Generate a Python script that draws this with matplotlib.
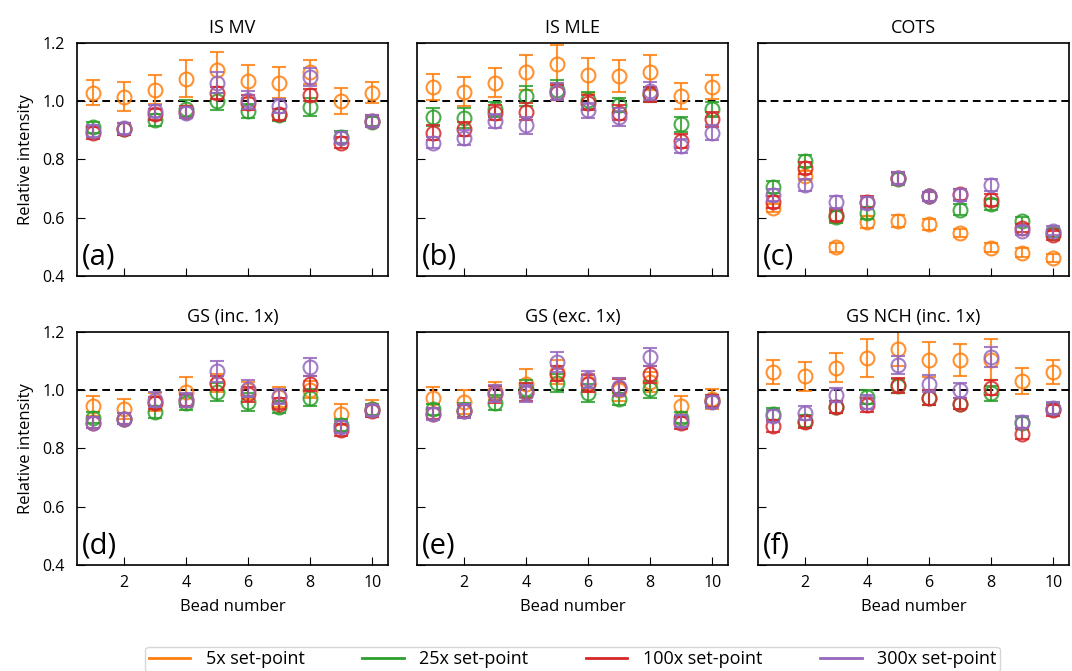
import numpy as np
import matplotlib
matplotlib.use('Agg')
import matplotlib.pyplot as plt
from matplotlib.lines import Line2D

plt.rcParams.update({
    'font.family': ['Open Sans', 'DejaVu Sans'],
    'font.size': 11,
    'xtick.direction': 'in',
    'ytick.direction': 'in',
    'xtick.major.size': 6,
    'ytick.major.size': 6,
    'axes.linewidth': 1.2,
})

# =============================================================================
# DATOS
# =============================================================================

beads = [1, 2, 3, 4, 5, 6, 7, 8, 9, 10]
series = ['5x set-point', '25x set-point', '100x set-point', '300x set-point']
colores = ['#ff7f0e', '#2ca02c', '#d62728', '#9467bd']
titulos = ['IS MV', 'IS MLE', 'COTS', 'GS (inc. 1x)', 'GS (exc. 1x)', 'GS NCH (inc. 1x)']
etiquetas = ['(a)', '(b)', '(c)', '(d)', '(e)', '(f)']

# filas: 5x, 25x, 100x, 300x
is_mv = [
    [1.03, 1.015, 1.04, 1.078, 1.108, 1.068, 1.064, 1.10, 1.00, 1.03],
    [0.91, 0.905, 0.935, 0.975, 1.00, 0.967, 0.952, 0.98, 0.877, 0.93],
    [0.892, 0.904, 0.955, 0.963, 1.028, 0.995, 0.955, 1.022, 0.858, 0.932],
    [0.898, 0.907, 0.967, 0.961, 1.064, 1.005, 0.984, 1.084, 0.875, 0.932],
]
is_mv_err = [
    [0.043, 0.05, 0.05, 0.065, 0.06, 0.056, 0.053, 0.04, 0.045, 0.037],
    [0.02, 0.02, 0.02, 0.03, 0.03, 0.025, 0.02, 0.03, 0.02, 0.015],
    [0.02, 0.02, 0.02, 0.02, 0.02, 0.025, 0.02, 0.02, 0.02, 0.02],
    [0.02, 0.02, 0.02, 0.02, 0.035, 0.03, 0.025, 0.03, 0.02, 0.02],
]

is_mle = [
    [1.049, 1.033, 1.064, 1.099, 1.127, 1.09, 1.087, 1.10, 1.018, 1.049],
    [0.946, 0.942, 0.972, 1.018, 1.038, 1.003, 0.987, 1.024, 0.921, 0.972],
    [0.892, 0.904, 0.961, 0.964, 1.03, 0.995, 0.961, 1.024, 0.864, 0.938],
    [0.858, 0.875, 0.932, 0.917, 1.033, 0.969, 0.946, 1.036, 0.846, 0.892],
]
is_mle_err = [
    [0.045, 0.05, 0.05, 0.06, 0.065, 0.06, 0.055, 0.06, 0.045, 0.04],
    [0.03, 0.035, 0.025, 0.035, 0.035, 0.03, 0.025, 0.025, 0.025, 0.025],
    [0.025, 0.025, 0.025, 0.03, 0.025, 0.025, 0.025, 0.025, 0.025, 0.025],
    [0.02, 0.025, 0.025, 0.03, 0.03, 0.025, 0.03, 0.03, 0.025, 0.025],
]

cots = [
    [0.633, 0.745, 0.499, 0.586, 0.588, 0.577, 0.548, 0.497, 0.48, 0.462],
    [0.706, 0.795, 0.602, 0.617, 0.732, 0.674, 0.628, 0.646, 0.588, 0.548],
    [0.654, 0.77, 0.609, 0.655, 0.737, 0.674, 0.68, 0.66, 0.565, 0.54],
    [0.678, 0.712, 0.655, 0.651, 0.737, 0.674, 0.678, 0.712, 0.556, 0.556],
]
cots_err = [
    [0.015, 0.015, 0.015, 0.02, 0.02, 0.02, 0.015, 0.015, 0.015, 0.015],
    [0.02, 0.02, 0.02, 0.02, 0.02, 0.015, 0.02, 0.02, 0.015, 0.015],
    [0.02, 0.02, 0.02, 0.02, 0.02, 0.015, 0.02, 0.02, 0.015, 0.015],
    [0.02, 0.02, 0.02, 0.02, 0.02, 0.015, 0.02, 0.02, 0.015, 0.015],
]

gs_inc = [
    [0.945, 0.935, 0.96, 0.994, 1.025, 1.0, 0.977, 1.002, 0.917, 0.937],
    [0.906, 0.903, 0.926, 0.957, 0.994, 0.96, 0.943, 0.975, 0.88, 0.934],
    [0.889, 0.903, 0.957, 0.966, 1.025, 0.986, 0.954, 1.023, 0.863, 0.929],
    [0.889, 0.903, 0.968, 0.966, 1.065, 1.006, 0.979, 1.08, 0.874, 0.931],
]
gs_inc_err = [
    [0.035, 0.035, 0.03, 0.05, 0.03, 0.03, 0.035, 0.03, 0.035, 0.03],
    [0.02, 0.02, 0.02, 0.025, 0.03, 0.03, 0.02, 0.03, 0.02, 0.02],
    [0.02, 0.02, 0.02, 0.02, 0.025, 0.025, 0.02, 0.025, 0.02, 0.02],
    [0.02, 0.02, 0.025, 0.025, 0.035, 0.03, 0.025, 0.03, 0.02, 0.02],
]

gs_exc = [
    [0.975, 0.96, 0.997, 1.023, 1.063, 1.025, 1.002, 1.029, 0.945, 0.971],
    [0.934, 0.931, 0.957, 1.006, 1.025, 0.991, 0.971, 1.003, 0.906, 0.963],
    [0.92, 0.929, 0.986, 0.994, 1.057, 1.023, 1.009, 1.055, 0.888, 0.963],
    [0.918, 0.929, 0.989, 0.989, 1.097, 1.037, 1.011, 1.114, 0.895, 0.96],
]
gs_exc_err = [
    [0.035, 0.04, 0.03, 0.05, 0.04, 0.03, 0.04, 0.035, 0.035, 0.035],
    [0.02, 0.025, 0.025, 0.03, 0.03, 0.03, 0.02, 0.03, 0.02, 0.02],
    [0.02, 0.02, 0.03, 0.03, 0.025, 0.03, 0.03, 0.03, 0.02, 0.02],
    [0.02, 0.025, 0.03, 0.03, 0.035, 0.03, 0.03, 0.03, 0.02, 0.02],
]

gs_nch = [
    [1.063, 1.048, 1.078, 1.112, 1.143, 1.105, 1.103, 1.105, 1.032, 1.063],
    [0.918, 0.895, 0.943, 0.977, 1.014, 0.975, 0.954, 0.989, 0.888, 0.937],
    [0.877, 0.891, 0.943, 0.949, 1.017, 0.975, 0.954, 1.009, 0.851, 0.931],
    [0.911, 0.922, 0.983, 0.96, 1.086, 1.023, 1.0, 1.114, 0.891, 0.94],
]
gs_nch_err = [
    [0.04, 0.05, 0.05, 0.065, 0.06, 0.06, 0.055, 0.07, 0.045, 0.04],
    [0.02, 0.02, 0.02, 0.025, 0.025, 0.025, 0.02, 0.025, 0.02, 0.02],
    [0.02, 0.02, 0.02, 0.025, 0.025, 0.025, 0.02, 0.025, 0.02, 0.02],
    [0.02, 0.025, 0.025, 0.025, 0.03, 0.03, 0.025, 0.035, 0.02, 0.02],
]

paneles = [(is_mv, is_mv_err), (is_mle, is_mle_err), (cots, cots_err),
           (gs_inc, gs_inc_err), (gs_exc, gs_exc_err), (gs_nch, gs_nch_err)]

# =============================================================================
# FIGURA
# =============================================================================

fig = plt.figure(figsize=(10.72, 6.71), dpi=100)

lefts = [0.0718, 0.389, 0.707]
bottoms = [0.5887, 0.158]
w, h = 0.290, 0.3472

for k, (medias, errores) in enumerate(paneles):
    fila, col = divmod(k, 3)
    ax = fig.add_axes([lefts[col], bottoms[fila], w, h])

    ax.axhline(1.0, color='black', linestyle='--', linewidth=1.4, dashes=(4, 2.5), zorder=1)

    for s in range(4):
        ax.errorbar(beads, medias[s], yerr=errores[s], fmt='o', color=colores[s],
                    mfc='none', mec=colores[s], ms=10, mew=1.5,
                    elinewidth=1.5, capsize=5, capthick=1.5, alpha=0.85, zorder=2 + s)

    ax.set_xlim(0.5, 10.5)
    ax.set_ylim(0.4, 1.2)
    ax.set_xticks([2, 4, 6, 8, 10])
    ax.set_yticks([0.4, 0.6, 0.8, 1.0, 1.2])
    ax.set_title(titulos[k], fontsize=13, pad=7)
    ax.text(0.015, 0.02, etiquetas[k], transform=ax.transAxes,
            fontsize=21, ha='left', va='bottom')

    if col == 0:
        ax.set_ylabel('Relative intensity', fontsize=12, labelpad=6)
        ax.yaxis.set_major_formatter(matplotlib.ticker.FormatStrFormatter('%.1f'))
    else:
        ax.set_yticklabels([])
    if fila == 1:
        ax.set_xlabel('Bead number', fontsize=12, labelpad=6)
    else:
        ax.set_xticklabels([])
    ax.tick_params(axis='y', labelsize=11.5, pad=9)
    ax.tick_params(axis='x', labelsize=11.5, pad=7)

handles = [Line2D([0], [0], color=c, lw=2) for c in colores]
fig.legend(handles, series, loc='upper center', bbox_to_anchor=(0.534, 0.0495),
           ncol=4, fontsize=13, frameon=True, fancybox=True, edgecolor='#cccccc',
           handlelength=2.3, handletextpad=0.85, columnspacing=3.2, borderpad=0.2)

plt.savefig('out.png', dpi=100)
